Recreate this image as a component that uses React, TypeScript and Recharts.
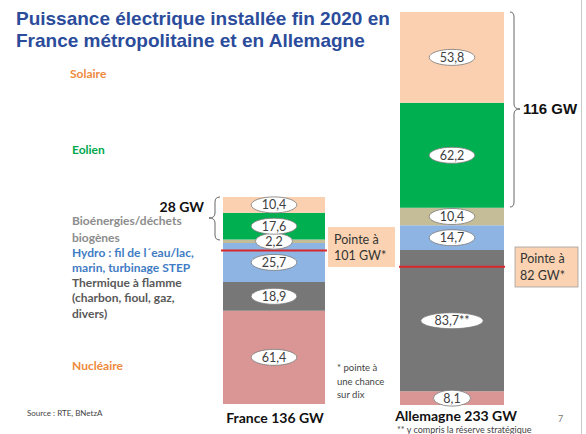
import { Bar, BarChart, LabelList, ReferenceLine, XAxis, YAxis } from "recharts"

// installed capacity end of 2020, GW
const categories = ["France", "Allemagne"]
const nucleaire = [61.4, 8.1]
const thermique = [18.9, 83.7]
const hydro = [25.7, 14.7]
const bioenergies = [2.2, 10.4]
const eolien = [17.6, 62.2]
const solaire = [10.4, 53.8]
const pointe = [101, 82]
const pointeLabels = ["101 GW*", "82 GW*"]
const totalLabels = ["France 136 GW", "Allemagne 233 GW"]
const thermiqueNotes = ["", "**"]

const series = [
    { key: "nucleaire", values: nucleaire, color: "#D99694" },
    { key: "thermique", values: thermique, color: "#777777" },
    { key: "hydro", values: hydro, color: "#8EB4E3" },
    { key: "bioenergies", values: bioenergies, color: "#C4BD97" },
    { key: "eolien", values: eolien, color: "#00B050" },
    { key: "solaire", values: solaire, color: "#FAD0B0" },
]

const rows = categories.map((name, i) => {
    const row: Record<string, string | number> = { name }
    series.forEach((s) => (row[s.key] = s.values[i]))
    return row
})

const calibri = "Lato, 'Open Sans', sans-serif"
const arial = "'Liberation Sans', Arial, sans-serif"

const ellipseLabel = (suffix: string) => (props: any) => {
    const x = Number(props.x), y = Number(props.y)
    const w = Number(props.width), h = Number(props.height)
    const text = String(props.value).replace(".", ",") + suffix
    const cx = x + w / 2
    const cy = y + h / 2
    const rx = 6 + text.length * 4.2
    return (
        <g>
            <ellipse cx={cx} cy={cy} rx={rx} ry={8} fill="#fff" stroke="#7a7a7a" strokeWidth={0.8} />
            <text x={cx} y={cy + 4.5} textAnchor="middle" fontSize={12.5} fill="#404040" fontFamily={calibri}>
                {text}
            </text>
        </g>
    )
}

function CountryBar({ index, left, right, top, bottom, barSize }: { index: number; left: number; right: number; top: number; bottom: number; barSize: number }) {
    const total = series.reduce((acc, s) => acc + s.values[index], 0)
    return (
        <div style={{ position: "absolute", left: 0, top: 0 }}>
            <BarChart width={586} height={434} data={[rows[index]]} margin={{ left, right, top, bottom }} barCategoryGap={0}>
                <XAxis dataKey="name" hide />
                <YAxis hide type="number" domain={[0, total]} allowDataOverflow />
                {series.map((s) => (
                    <Bar key={s.key} dataKey={s.key} stackId="a" fill={s.color} barSize={barSize} isAnimationActive={false}>
                        <LabelList dataKey={s.key} content={ellipseLabel(s.key === "thermique" ? thermiqueNotes[index] : "")} />
                    </Bar>
                ))}
                <ReferenceLine y={pointe[index]} stroke="#D9262B" strokeWidth={2} />
            </BarChart>
        </div>
    )
}

export default function App() {
    return (
        <div style={{ position: "absolute", left: 0, top: 0, width: 586, height: 434, background: "#fff", overflow: "hidden" }}>
            <CountryBar index={0} left={221} right={259} top={197} bottom={30} barSize={102} />
            <CountryBar index={1} left={399} right={81} top={12} bottom={29} barSize={104} />
            <svg width={586} height={434} style={{ position: "absolute", left: 0, top: 0, pointerEvents: "none" }}>
                <line x1={581.5} y1={0} x2={581.5} y2={434} stroke="#C8C8C8" strokeWidth={1} />

                <text x={16} y={25} fontFamily={arial} fontWeight="bold" fontSize={19} fill="#2B4C9B">Puissance électrique installée fin 2020 en</text>
                <text x={16} y={46.5} fontFamily={arial} fontWeight="bold" fontSize={19} fill="#2B4C9B">France métropolitaine et en Allemagne</text>

                <g fontFamily={calibri} fontWeight="bold" fontSize={12}>
                    <text x={70} y={78} fill="#EE8A3C">Solaire</text>
                    <text x={72} y={154} fill="#00A84C">Eolien</text>
                    <text x={72} y={225} fill="#8C8C8C">Bioénergies/déchets</text>
                    <text x={72} y={242} fill="#8C8C8C">biogènes</text>
                    <text x={72} y={257} fill="#3F7CC4">Hydro : fil de l´eau/lac,</text>
                    <text x={72} y={272} fill="#3F7CC4">marin, turbinage STEP</text>
                    <text x={72} y={287} fill="#595959">Thermique à flamme</text>
                    <text x={72} y={302} fill="#595959">(charbon, fioul, gaz,</text>
                    <text x={72} y={318} fill="#595959">divers)</text>
                    <text x={72} y={370} fill="#EE8A3C">Nucléaire</text>
                </g>

                <text x={204} y={212} textAnchor="end" fontFamily={calibri} fontWeight="bold" fontSize={14} fill="#111">28 GW</text>
                <path d="M220,197 Q215,197 215,202 L215,213 Q215,218 209,218 Q215,218 215,223 L215,235 Q215,240 220,240" fill="none" stroke="#666" strokeWidth={1} />

                <path d="M510,12 Q514,12 514,17 L514,104 Q514,109 520,109 Q514,109 514,114 L514,202 Q514,207 510,207" fill="none" stroke="#666" strokeWidth={1} />
                <text x={523} y={114} fontFamily={arial} fontWeight="bold" fontSize={15} fill="#111">116 GW</text>

                <rect x={328} y={227} width={67} height={40} fill="#FBD3B2" />
                <text x={334} y={244} fontFamily={calibri} fontSize={12.5} fill="#333">Pointe à</text>
                <text x={334} y={260} fontFamily={calibri} fontSize={12.5} fill="#333">{pointeLabels[0]}</text>

                <rect x={515} y={247} width={63} height={40} fill="#FBD3B2" stroke="#A0A0A0" strokeWidth={0.8} />
                <text x={520} y={263} fontFamily={calibri} fontSize={12.5} fill="#333">Pointe à</text>
                <text x={520} y={280} fontFamily={calibri} fontSize={12.5} fill="#333">{pointeLabels[1]}</text>

                <g fontFamily={calibri} fontSize={9.5} fill="#444">
                    <text x={337} y={371}>* pointe à</text>
                    <text x={337} y={385}>une chance</text>
                    <text x={337} y={398}>sur dix</text>
                </g>

                <text x={275} y={423} textAnchor="middle" fontFamily={calibri} fontWeight="bold" fontSize={14} fill="#111">{totalLabels[0]}</text>
                <text x={456} y={421} textAnchor="middle" fontFamily={calibri} fontWeight="bold" fontSize={14} fill="#111">{totalLabels[1]}</text>
                <text x={397} y={433} fontFamily={calibri} fontSize={9} fill="#444">** y compris la réserve stratégique</text>
                <text x={558} y={422} fontFamily={calibri} fontSize={9} fill="#777">7</text>
                <text x={27} y={416} fontFamily={calibri} fontSize={8} fill="#444">Source : RTE, BNetzA</text>
            </svg>
        </div>
    )
}
